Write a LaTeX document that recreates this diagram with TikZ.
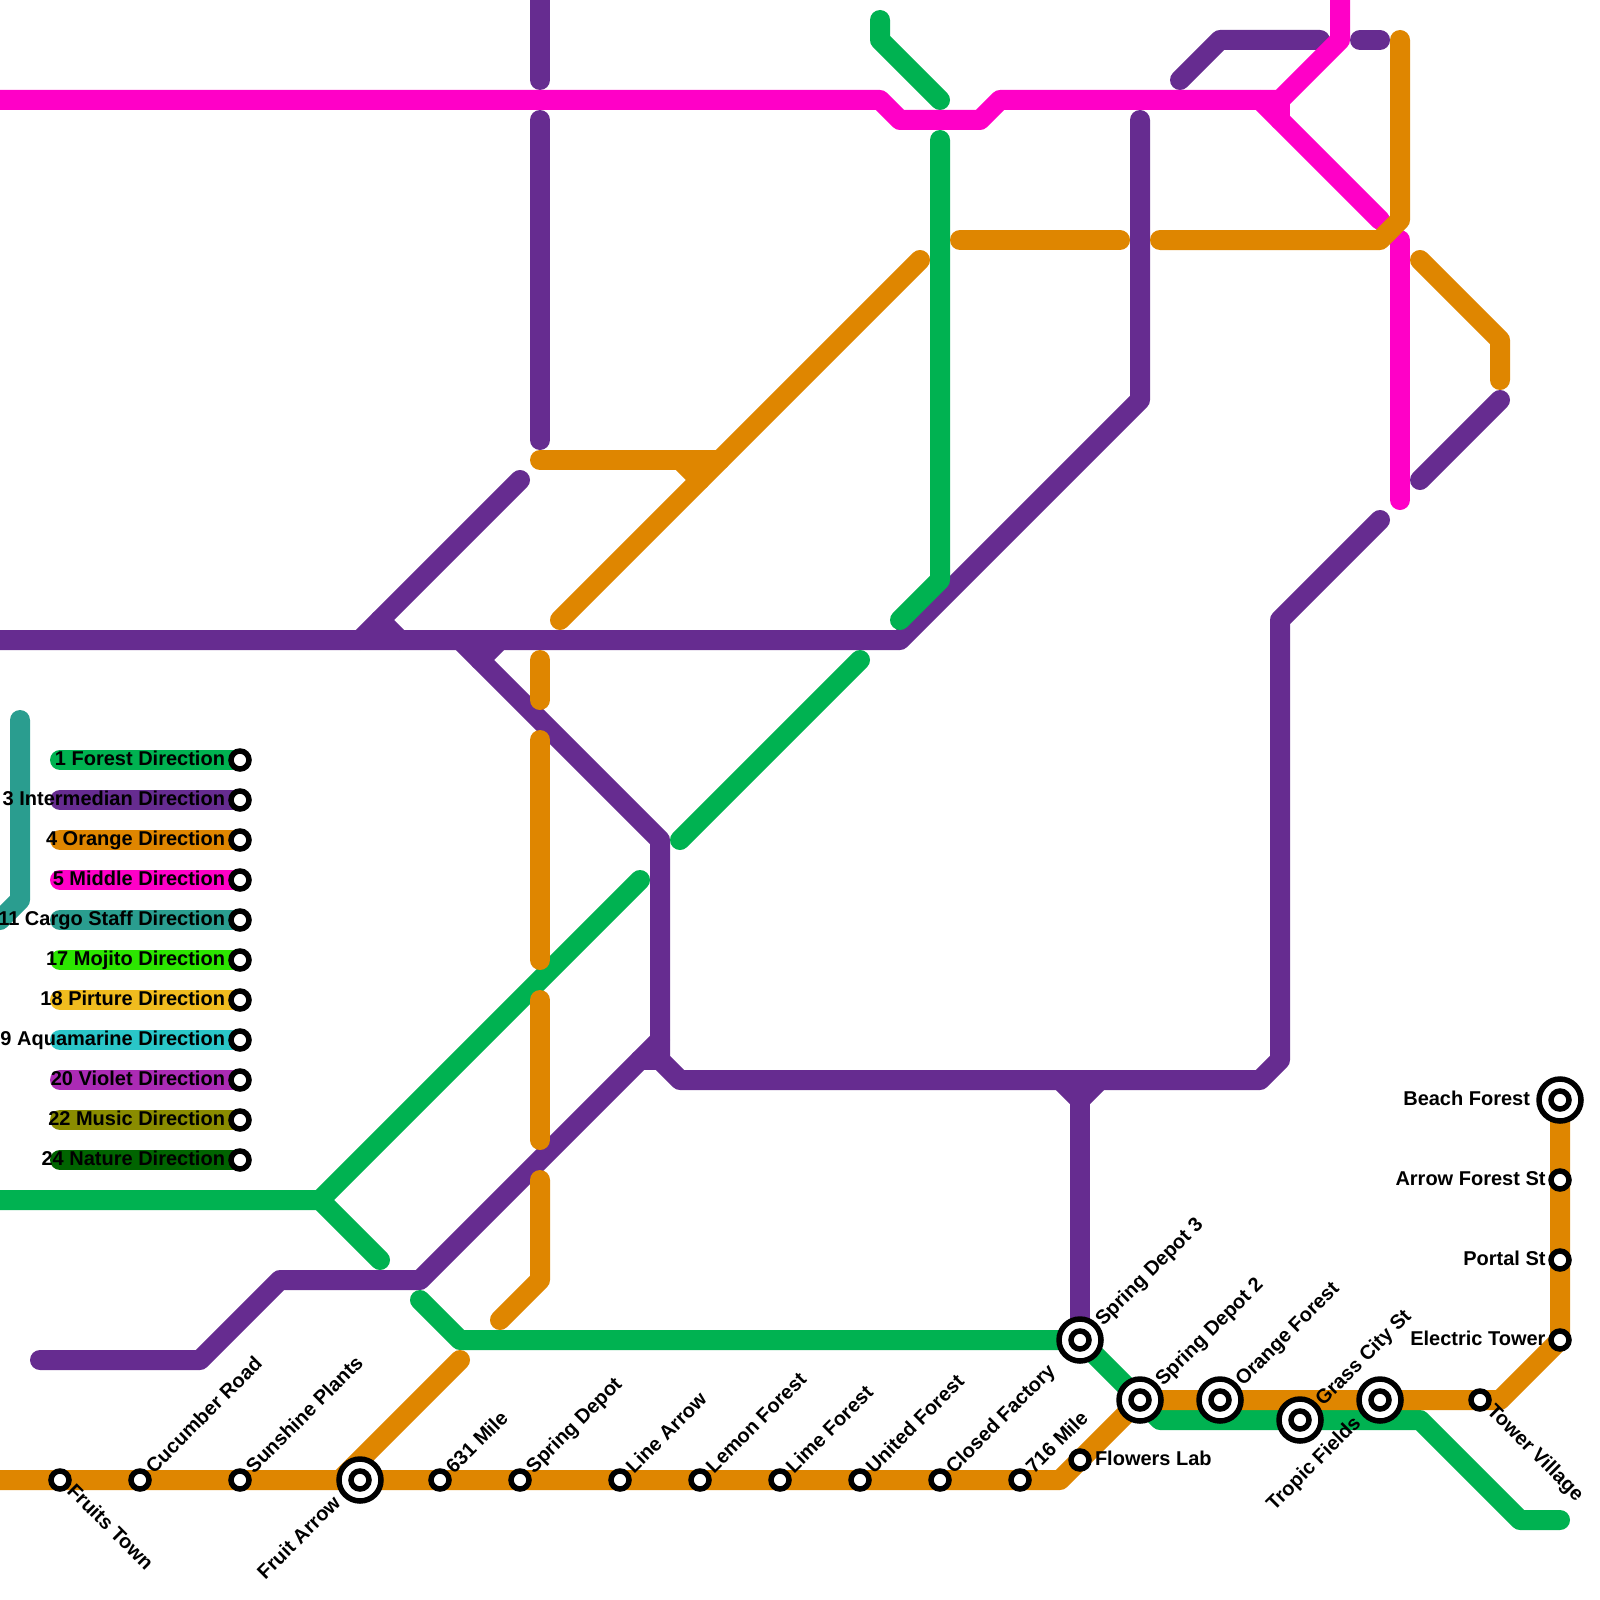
\documentclass[tikz,border=0pt]{standalone}
\usepackage{fontspec}
\setmainfont{Liberation Sans}
\definecolor{cgreen}{HTML}{00B251}
\definecolor{cpurple}{HTML}{662C90}
\definecolor{corange}{HTML}{DF8600}
\definecolor{cpink}{HTML}{FF00C7}
\definecolor{cteal}{HTML}{2A9D8F}
\definecolor{cmojito}{HTML}{2CE600}
\definecolor{cpirture}{HTML}{F0BC1F}
\definecolor{caqua}{HTML}{2AC6C8}
\definecolor{cviolet}{HTML}{AB2BB5}
\definecolor{cmusic}{HTML}{8A8C00}
\definecolor{cnature}{HTML}{006400}
\tikzset{
  railline/.style={line width=20pt,line cap=round,line join=round},
  sta/.style={circle,draw=black,fill=white,line width=5.5pt,minimum size=18pt,inner sep=0pt,outer sep=0pt},
  bigsta/.style={circle,draw=black,fill=white,line width=5.5pt,minimum size=42pt,inner sep=0pt,outer sep=0pt},
  lab/.style={font=\fontsize{20pt}{20pt}\selectfont\bfseries,inner sep=0pt,outer sep=0pt,text=black},
  upr/.style={lab,anchor=base west,xshift=14.1pt,yshift=5.7pt,rotate=45},
  bigupr/.style={lab,anchor=base west,xshift=23.3pt,yshift=13.4pt,rotate=45},
  dnr/.style={lab,anchor=base west,xshift=6.2pt,yshift=-12.1pt,rotate=-45},
  bigdnl/.style={lab,anchor=base east,xshift=-18.4pt,yshift=-24.3pt,rotate=45},
  rgt/.style={lab,anchor=base west,xshift=15pt,yshift=-5pt},
  lft/.style={lab,anchor=base east,xshift=-14.5pt,yshift=-5pt},
  biglft/.style={lab,anchor=base east,xshift=-30pt,yshift=-5pt},
}
\newcommand{\stat}[4]{\node[sta] (#1) at (#2) {}; \node[#3] (#1L) at (#2) {#4};}
\newcommand{\bigstat}[4]{\node[bigsta] (#1) at (#2) {}; \node[sta] (#1C) at (#2) {}; \node[#3] (#1L) at (#2) {#4};}
\newcommand{\legend}[3]{%
  \coordinate (#1a) at (60,#2);\node[sta] (#1s) at (240,#2) {};%
  \begin{pgfonlayer}{bg}\draw[railline,#1] (#1a) -- (#1s.center);\end{pgfonlayer}%
  \node[lab,anchor=base east] (#1t) at (225,#2+5.5) {#3};}
\pgfdeclarelayer{bg}
\pgfsetlayers{bg,main}
\begin{document}
\begin{tikzpicture}[x=1pt,y=-1pt]
\useasboundingbox (0,0) rectangle (1600,1600);
\clip (0,0) rectangle (1600,1600);
% station positions used by the routes
\coordinate (FruitArrow) at (360,1480);
\coordinate (SpringDepotThree) at (1080,1340);
\coordinate (SpringDepotTwo) at (1140,1400);
\coordinate (TowerVillage) at (1480,1400);
\coordinate (ElectricTower) at (1560,1340);
\coordinate (BeachForest) at (1560,1100);
% teal
\draw[railline,cteal] (20,720) -- (20,900) -- (0,920);
% purple
\draw[railline,cpurple] (540,-15) -- (540,80);
\draw[railline,cpurple] (540,120) -- (540,440);
\draw[railline,cpurple] (1180,80) -- (1220,40) -- (1320,40);
\draw[railline,cpurple] (1360,40) -- (1380,40);
\draw[railline,cpurple] (1420,480) -- (1500,400);
\draw[railline,cpurple] (520,480) -- (360,640);
\draw[railline,cpurple] (380,620) -- (400,640);
\draw[railline,cpurple] (-15,640) -- (900,640) -- (1140,400) -- (1140,120);
\draw[railline,cpurple] (480,660) -- (500,640);
\draw[railline,cpurple] (1380,520) -- (1280,620) -- (1280,1060) -- (1260,1080) -- (680,1080) -- (660,1060) -- (660,840) -- (460,640);
\draw[railline,cpurple] (40,1360) -- (200,1360) -- (280,1280) -- (420,1280) -- (660,1040);
\draw[railline,cpurple] (640,1060) -- (660,1060);
\draw[railline,cpurple] (1060,1080) -- (1080,1100) -- (1100,1080);
\draw[railline,cpurple] (1080,1100) -- (SpringDepotThree);
% green
\draw[railline,cgreen] (880,20) -- (880,40) -- (940,100);
\draw[railline,cgreen] (940,140) -- (940,580) -- (900,620);
\draw[railline,cgreen] (680,840) -- (860,660);
\draw[railline,cgreen] (-15,1200) -- (320,1200) -- (640,880);
\draw[railline,cgreen] (320,1200) -- (380,1260);
\draw[railline,cgreen] (420,1300) -- (460,1340) -- (SpringDepotThree) -- (SpringDepotTwo) -- (1160,1420) -- (1420,1420) -- (1520,1520) -- (1560,1520);
% pink
\draw[railline,cpink] (-15,100) -- (880,100) -- (900,120) -- (980,120) -- (1000,100) -- (1260,100) -- (1380,220);
\draw[railline,cpink] (1260,100) -- (1280,100) -- (1340,40) -- (1340,-15);
\draw[railline,cpink] (1280,100) -- (1280,120);
\draw[railline,cpink] (1400,240) -- (1400,500);
% orange
\draw[railline,corange] (1400,40) -- (1400,220) -- (1380,240) -- (1160,240);
\draw[railline,corange] (960,240) -- (1120,240);
\draw[railline,corange] (920,260) -- (560,620);
\draw[railline,corange] (540,460) -- (720,460);
\draw[railline,corange] (680,460) -- (700,480);
\draw[railline,corange] (1420,260) -- (1500,340) -- (1500,380);
\draw[railline,corange] (540,660) -- (540,700);
\draw[railline,corange] (540,740) -- (540,960);
\draw[railline,corange] (540,1000) -- (540,1140);
\draw[railline,corange] (540,1180) -- (540,1280) -- (500,1320);
\draw[railline,corange] (460,1360) -- (340,1480);
\draw[railline,corange] (-15,1480) -- (1060,1480) -- (SpringDepotTwo) -- (TowerVillage) -- (1500,1400) -- (ElectricTower) -- (BeachForest);
% legend
\legend{cgreen}{760}{1 Forest Direction}
\legend{cpurple}{800}{3 Intermedian Direction}
\legend{corange}{840}{4 Orange Direction}
\legend{cpink}{880}{5 Middle Direction}
\legend{cteal}{920}{11 Cargo Staff Direction}
\legend{cmojito}{960}{17 Mojito Direction}
\legend{cpirture}{1000}{18 Pirture Direction}
\legend{caqua}{1040}{19 Aquamarine Direction}
\legend{cviolet}{1080}{20 Violet Direction}
\legend{cmusic}{1120}{22 Music Direction}
\legend{cnature}{1160}{24 Nature Direction}
% stations
\stat{sFruits}{60,1480}{dnr}{Fruits Town}
\stat{sCucumber}{140,1480}{upr}{Cucumber Road}
\stat{sSunshine}{240,1480}{upr}{Sunshine Plants}
\bigstat{sFruitArrow}{FruitArrow}{bigdnl}{Fruit Arrow}
\stat{sMile}{440,1480}{upr}{631 Mile}
\stat{sSpringDepot}{520,1480}{upr}{Spring Depot}
\stat{sLineArrow}{620,1480}{upr}{Line Arrow}
\stat{sLemon}{700,1480}{upr}{Lemon Forest}
\stat{sLime}{780,1480}{upr}{Lime Forest}
\stat{sUnited}{860,1480}{upr}{United Forest}
\stat{sClosed}{940,1480}{upr}{Closed Factory}
\stat{sSevenSixteen}{1020,1480}{upr}{716 Mile}
\stat{sFlowers}{1080,1460}{rgt}{Flowers Lab}
\bigstat{sDepotThree}{SpringDepotThree}{bigupr}{Spring Depot 3}
\bigstat{sDepotTwo}{SpringDepotTwo}{bigupr}{Spring Depot 2}
\bigstat{sOrangeForest}{1220,1400}{bigupr}{Orange Forest}
\bigstat{sGrass}{1300,1420}{bigupr}{Grass City St}
\bigstat{sTropic}{1380,1400}{bigdnl}{Tropic Fields}
\stat{sTower}{TowerVillage}{dnr}{Tower Village}
\stat{sElectric}{ElectricTower}{lft}{Electric Tower}
\stat{sPortal}{1560,1260}{lft}{Portal St}
\stat{sArrowForest}{1560,1180}{lft}{Arrow Forest St}
\bigstat{sBeach}{BeachForest}{biglft}{Beach Forest}
\end{tikzpicture}
\end{document}
